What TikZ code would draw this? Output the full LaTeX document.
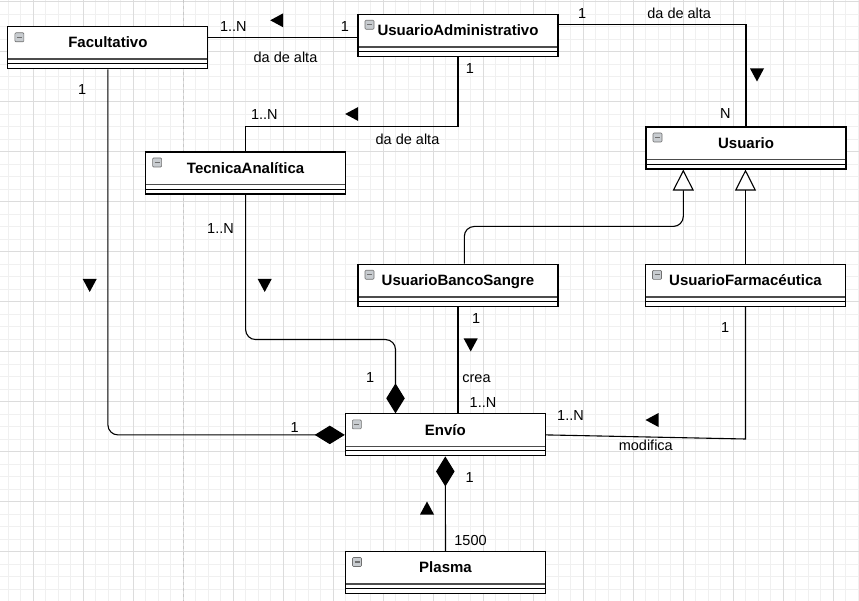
\documentclass[tikz,border=0pt]{standalone}
\usepackage{fontspec}
\setmainfont{Liberation Sans}
\usetikzlibrary{arrows.meta}
\definecolor{gridminor}{HTML}{F0F0F0}
\definecolor{gridmajor}{HTML}{DCDCDC}
\definecolor{pagebreak}{HTML}{C8C8C8}
\definecolor{iconfill}{HTML}{C8CCD0}
\definecolor{icondraw}{HTML}{707070}

\newcommand{\tridown}[1]{\fill #1 ++(-7,-6.5) -- ++(14,0) -- ++(-7,13) -- cycle;}
\newcommand{\triup}[1]{\fill #1 ++(-7,6.5) -- ++(14,0) -- ++(-7,-13) -- cycle;}
\newcommand{\trileft}[1]{\fill #1 ++(6.5,-7) -- ++(0,14) -- ++(-13,-7) -- cycle;}

\begin{document}
\begin{tikzpicture}[x=1pt,y=-1pt,
  umlclass/.style={draw, line width=1.1pt, fill=white, minimum width=200pt, minimum height=42pt,
    font=\fontsize{15}{18}\selectfont\bfseries, text height=11pt, text depth=10.6pt,
    path picture={
      \draw[line width=1.6pt, black!70] ([yshift=-32.5pt]path picture bounding box.north west) -- ([yshift=-32.5pt]path picture bounding box.north east);
      \draw[line width=0.9pt] ([yshift=-37pt]path picture bounding box.north west) -- ([yshift=-37pt]path picture bounding box.north east);
      \filldraw[fill=iconfill, draw=icondraw, line width=0.6pt, rounded corners=1pt] ([xshift=7pt,yshift=-6pt]path picture bounding box.north west) rectangle ++(9pt,-9pt);
      \draw[icondraw, line width=1.2pt] ([xshift=9pt,yshift=-10.5pt]path picture bounding box.north west) -- ++(5pt,0pt);
    }},
  lbl/.style={font=\fontsize{14.5}{17}\selectfont, anchor=base, inner sep=0pt},
  assoc/.style={line width=1.1pt},
  composed/.style={assoc, -{Diamond[length=30pt,width=18.5pt]}},
  generalize/.style={assoc, -{Triangle[length=21pt,width=21pt,fill=white]}}]

% Background and grid
\fill[white] (0,0) rectangle (859,601);
\useasboundingbox (0,0) rectangle (859,601);
\foreach \gx in {0,...,68} \draw[gridminor, line width=1pt] (8+12.5*\gx,0) -- ++(0,601);
\foreach \gy in {0,...,47} \draw[gridminor, line width=1pt] (0,1.7+12.5*\gy) -- ++(859,0);
\foreach \gx in {0,...,16} \draw[gridmajor, line width=1pt] (33+50*\gx,0) -- ++(0,601);
\foreach \gy in {0,...,11} \draw[gridmajor, line width=1pt] (0,1.7+50*\gy) -- ++(859,0);
\draw[pagebreak, line width=1pt, dash pattern=on 3pt off 3pt] (183,0) -- (183,601);

% Classes
\node[umlclass] (fac) at (107.9,47.8) {Facultativo};
\node[umlclass] (admin) at (458,35.3) {UsuarioAdministrativo};
\node[umlclass] (tecnica) at (245.6,173) {TecnicaAnalítica};
\node[umlclass] (usuario) at (746,148) {Usuario};
\node[umlclass] (bancosangre) at (458,285.3) {UsuarioBancoSangre};
\node[umlclass] (farma) at (745.5,285.4) {UsuarioFarmacéutica};
\node[umlclass] (envio) at (445.3,434.9) {Envío};
\node[umlclass] (plasma) at (445.5,572.5) {Plasma};

% da de alta
\coordinate (adminleft) at ([yshift=-2pt]admin.west);
\draw[assoc] (fac.east |- adminleft) -- (adminleft);
\draw[assoc] (admin.south) -- ++(0,69.6) -| (tecnica.north);
\coordinate (adminright) at ([yshift=10.6pt]admin.east);
\draw[assoc] (adminright) -| (usuario.north);

% Herencia
\draw[generalize, rounded corners=10pt] ([xshift=6.3pt]bancosangre.north) -- ++(0,-37.3) -| ([xshift=-62.7pt]usuario.south);
\draw[generalize] (farma.north) -- (farma.north |- usuario.south);

% Envio
\draw[composed, rounded corners=10pt] (fac.south) |- (envio.west);
\draw[composed, rounded corners=10pt] (tecnica.south) -- ++(0,145) -| ([xshift=-49.8pt]envio.north);
\draw[assoc] (bancosangre.south) -- (bancosangre.south |- envio.north);
\coordinate (modcorner) at (745.5,439);
\draw[assoc] (farma.south) -- (modcorner) -- (envio.east);
\draw[assoc, {Diamond[length=30pt,width=18.5pt]}-] (envio.south) -- (plasma.north);

% Labels
\node[lbl] (facadminmany) at (233.3,31.7) {1..N};
\node[lbl] (facadminone) at (345,31.7) {1};
\node[lbl] (facadminrole) at (285.5,62.7) {da de alta};
\node[lbl] (tecadminone) at (470,74) {1};
\node[lbl] (tecadminmany) at (264.3,119.3) {1..N};
\node[lbl] (tecadminrole) at (407.5,145) {da de alta};
\node[lbl] (usuadminone) at (582.2,19) {1};
\node[lbl] (usuadminrole) at (679.2,19) {da de alta};
\node[lbl] (usuadminmany) at (725.3,119) {N};
\node[lbl] (facenvioone) at (82.2,94.3) {1};
\node[lbl] (facenvioother) at (294.7,432.3) {1};
\node[lbl] (tecenviomany) at (220.5,233.3) {1..N};
\node[lbl] (tecenvioone) at (370.2,382.3) {1};
\node[lbl] (bancoenvioone) at (476.2,324) {1};
\node[lbl] (bancoenviorole) at (476.5,382.3) {crea};
\node[lbl] (bancoenviomany) at (483,407.3) {1..N};
\node[lbl] (farmaenvioone) at (725.2,332.3) {1};
\node[lbl] (farmaenviomany) at (570.5,420) {1..N};
\node[lbl] (farmaenviorole) at (645.8,450) {modifica};
\node[lbl] (plasmaenvioone) at (469.7,482.7) {1};
\node[lbl] (plasmaenviomany) at (470.5,545) {1500};

% Sentido de lectura
\trileft{(276.7,20.3)}
\trileft{(351.7,114)}
\tridown{(757,75)}
\tridown{(89.7,285.5)}
\tridown{(264.7,285.5)}
\tridown{(470.7,345)}
\trileft{(652,420)}
\triup{(427,508)}

\end{tikzpicture}
\end{document}
